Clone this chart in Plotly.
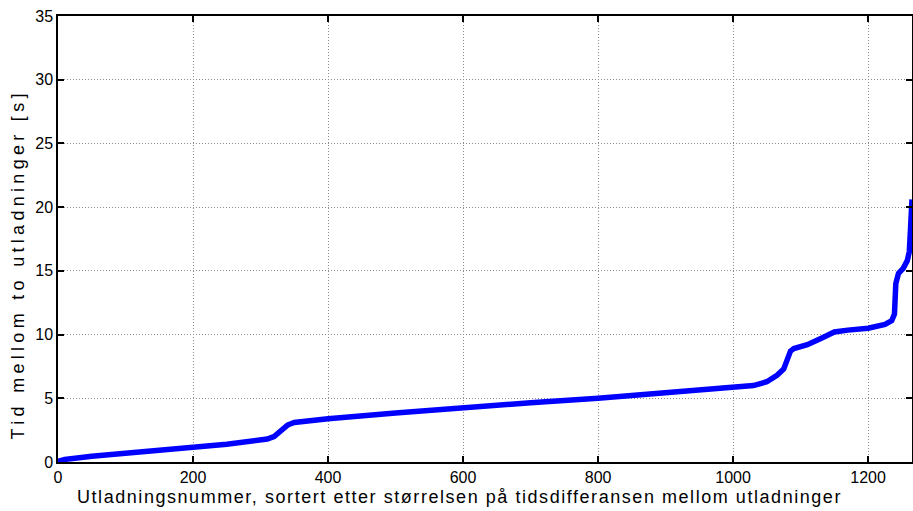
import plotly.graph_objects as go

# (sorted time differences)
x_vals = [0, 10, 50, 100, 150, 200, 250, 290, 310, 320, 330, 340, 350, 400, 500, 600,
          700, 800, 900, 1000, 1030, 1050, 1065, 1075, 1080, 1085, 1090, 1110, 1130, 1150,
          1170, 1200, 1225, 1235, 1239, 1241, 1245, 1252, 1258, 1261, 1263, 1265]
y_vals = [0.05, 0.2, 0.45, 0.65, 0.9, 1.15, 1.4, 1.6, 1.8, 2.0, 2.4, 2.9, 3.1, 3.4, 3.85, 4.3,
          4.65, 5.0, 5.4, 5.8, 6.0, 6.3, 6.8, 7.3, 8.0, 8.7, 8.9, 9.2, 9.7, 10.2,
          10.35, 10.5, 10.8, 11.1, 11.6, 14.0, 14.8, 15.2, 15.8, 16.5, 18.5, 20.6]

x_ticks = [0, 200, 400, 600, 800, 1000, 1200]
y_ticks = [0, 5, 10, 15, 20, 25, 30, 35]

x_title = "Utladningsnummer, sortert etter størrelsen på tidsdifferansen mellom utladninger"
y_title = "Tid mellom to utladninger [s]"

FONT = "Liberation Sans, Arial"

fig = go.Figure()
fig.add_trace(go.Scatter(x=x_vals, y=y_vals, mode="lines",
                         line=dict(color="#0000ff", width=5.5), showlegend=False))

axis_common = dict(
    showline=True, linecolor="black", linewidth=1.5, mirror="ticks",
    ticks="inside", ticklen=6, tickwidth=1.5, tickcolor="black",
    showgrid=True, gridcolor="#8c8c8c", griddash="1px,2px", gridwidth=1,
    zeroline=False, automargin=False, ticklabelstandoff=0,
    tickfont=dict(family=FONT, size=16, color="black"),
)

fig.update_xaxes(range=[0, 1265], tickvals=x_ticks, ticktext=[str(v) for v in x_ticks],
                 **axis_common)
fig.update_yaxes(range=[0, 35], tickvals=y_ticks, ticktext=[str(v) for v in y_ticks],
                 **axis_common)

title_font = dict(family=FONT, size=18, color="black")
fig.add_annotation(text=x_title, xref="paper", yref="paper", x=0.4707, y=-0.0785,
                   xanchor="center", yanchor="middle", showarrow=False, font=title_font)
fig.add_annotation(text=y_title, xref="paper", yref="paper", x=-0.0468, y=0.4417,
                   xanchor="center", yanchor="middle", textangle=-90, showarrow=False,
                   font=title_font)

fig.update_layout(
    width=913, height=511,
    margin=dict(l=58, r=1, t=16, b=49),
    paper_bgcolor="white", plot_bgcolor="white",
)

post = """
document.body.style.margin='0';document.body.style.padding='0';
var a = document.querySelectorAll('.annotation-text');
if (a.length > 0) { a[0].style.letterSpacing='1.55px'; }
if (a.length > 1) { a[1].style.letterSpacing='4.3px'; }
"""

fig.write_html("out.html", config={"displayModeBar": False}, post_script=post)
